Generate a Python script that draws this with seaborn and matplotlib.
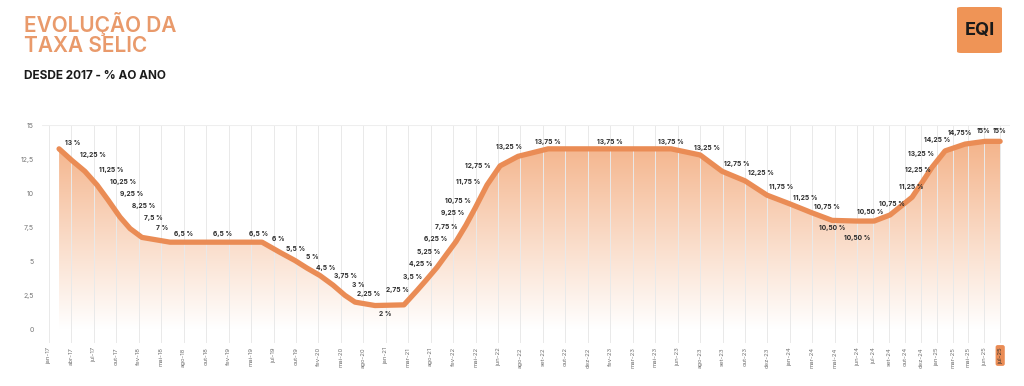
import numpy as np
import pandas as pd
import matplotlib
matplotlib.use('Agg')
import matplotlib.pyplot as plt
import seaborn as sns
from matplotlib.patches import FancyBboxPatch
from matplotlib.colors import LinearSegmentedColormap

# rótulos do eixo x (46 categorias)
month_labels = ['jan-17', 'abr-17', 'jul-17', 'out-17', 'fev-18', 'mai-18', 'ago-18', 'out-18',
                'fev-19', 'mai-19', 'jul-19', 'out-19', 'fev-20', 'mai-20', 'ago-20', 'jan-21',
                'mar-21', 'ago-21', 'fev-22', 'mai-22', 'jun-22', 'ago-22', 'set-22', 'out-22',
                'dez-22', 'fev-23', 'mar-23', 'mai-23', 'jun-23', 'ago-23', 'set-23', 'out-23',
                'dez-23', 'jan-24', 'mar-24', 'mai-24', 'jun-24', 'jul-24', 'set-24', 'out-24',
                'dez-24', 'jan-25', 'mar-25', 'mai-25', 'jun-25', 'jul-25']

# posição de cada ponto no eixo x
point_pos = [0.45, 1.02, 1.60, 2.14, 2.63, 3.16, 3.61, 4.14, 5.39, 7.71,
             9.49, 10.29, 10.96, 11.49, 12.07, 12.65, 13.18, 13.63, 14.52, 15.81,
             16.39, 16.79, 17.28, 17.68, 18.13, 18.57, 18.98, 19.51, 20.09, 20.89,
             22.23, 24.99, 27.71, 29.00, 29.98, 31.00, 31.98, 33.01, 33.99, 34.88,
             35.99, 36.75, 37.46, 38.44, 38.89, 39.33, 39.91, 40.80, 41.69, 42.36]

# valores da curva lidos no eixo y
curve_values = [13.25, 12.4, 11.6, 10.6, 9.5, 8.25, 7.4, 6.75, 6.4, 6.4,
                6.4, 5.65, 5.05, 4.5, 3.95, 3.25, 2.5, 2.0, 1.75, 1.8,
                2.85, 3.6, 4.55, 5.45, 6.45, 7.65, 8.9, 10.6, 12.0, 12.7,
                13.25, 13.25, 13.25, 12.8, 11.6, 10.9, 9.85, 9.2, 8.55, 8.0,
                7.95, 7.95, 8.4, 9.7, 10.8, 11.9, 13.1, 13.6, 13.8, 13.8]

# texto das etiquetas
selic_text = ['13 %', '12,25 %', '11,25 %', '10,25 %', '9,25 %', '8,25 %', '7,5 %', '7 %', '6,5 %', '6,5 %',
              '6,5 %', '6 %', '5,5 %', '5 %', '4,5 %', '3,75 %', '3 %', '2,25 %', '2 %', '2,75 %',
              '3,5 %', '4,25 %', '5,25 %', '6,25 %', '7,75 %', '9,25 %', '10,75 %', '11,75 %', '12,75 %', '13,25 %',
              '13,75 %', '13,75 %', '13,75 %', '13,25 %', '12,75 %', '12,25 %', '11,75 %', '11,25 %', '10,75 %', '10,50 %',
              '10,50 %', '10,50 %', '10,75 %', '11,25 %', '12,25 %', '13,25 %', '14,25 %', '14,75%', '15%', '15%']

# deslocamento das etiquetas (pixels)
label_offsets = [(14, 6), (21, 5), (26, 1), (26, 3), (24, 6), (24, 11), (23, 11), (20, 9), (14, 8), (0, 8),
                 (-3, 8), (-2, 13), (1, 12), (5, 11), (6, 8), (12, 9), (13, 10), (14, 8), (10, -8), (-7, 15),
                 (-4, 14), (-5, 16), (-8, 15), (-10, 16), (-10, 14), (-13, 12), (-17, 7), (-19, 3), (-22, 0), (-9, 9),
                 (0, 7), (0, 7), (0, 7), (7, 7), (15, 7), (16, 8), (14, 8), (15, 6), (15, 6), (0, -8),
                 (0, -17), (-4, 9), (2, 11), (-1, 10), (-4, 12), (-11, 13), (-8, 11), (-5, 11), (-1, 10), (0, 10)]

ORANGE = '#EA8C55'

sns.set_theme(style='white')
plt.rcParams['font.family'] = ['Inter', 'DejaVu Sans']

df = pd.DataFrame({'pos': point_pos, 'selic': curve_values})

# ticks: passo normal até jun-24, depois comprimido
tick_pos = list(range(37)) + [36 + k * 0.707 for k in range(1, 10)]

fig = plt.figure(figsize=(10.24, 3.86), dpi=100)
ax = fig.add_axes([42 / 1024, 1 - 343 / 386, 968 / 1024, 218 / 386])
x0, x1 = -0.31, 42.8
ax.set_xlim(x0, x1)
ax.set_ylim(-1, 15)

# gradiente sob a curva
cmap = LinearSegmentedColormap.from_list('fade', ['#ffffff', '#f3ad80'])
grad = np.linspace(0, 1, 256).reshape(-1, 1)
im = ax.imshow(grad, extent=[x0, x1, 0, 15], origin='lower', aspect='auto', cmap=cmap, zorder=1)
poly = ax.fill_between(df['pos'], df['selic'], 0, color='none', linewidth=0)
im.set_clip_path(poly.get_paths()[0], transform=ax.transData)

# grade vertical
ax.vlines(tick_pos, -1, 15, color='#e9e9e9', linewidth=0.7, zorder=2)
ax.axhline(15, color='#eeeeee', linewidth=0.8, zorder=2)

sns.lineplot(data=df, x='pos', y='selic', color=ORANGE, linewidth=3.8, ax=ax, zorder=3)
ax.lines[-1].set_solid_joinstyle('round')
ax.lines[-1].set_solid_capstyle('round')

for x, y, txt, off in zip(df['pos'], df['selic'], selic_text, label_offsets):
    ax.annotate(txt, (x, y), xytext=off, textcoords='offset pixels', ha='center', va='center',
                fontsize=4.8, fontweight='bold', color='#2b2b2b', zorder=4)

ax.set_yticks([0, 2.5, 5, 7.5, 10, 12.5, 15])
ax.set_yticklabels(['0', '2,5', '5', '7,5', '10', '12,5', '15'], fontsize=5, color='#777777')
ax.set_xticks(tick_pos)
ax.set_xticklabels(month_labels, rotation=90, fontsize=4.3, color='#707070')
ax.tick_params(axis='y', length=0, pad=6)
ax.tick_params(axis='x', length=0, pad=3)
last = ax.get_xticklabels()[-1]
last.set_color('#333333')
last.set_bbox(dict(boxstyle='round,pad=0.35', facecolor=ORANGE, edgecolor='none'))
ax.set_xlabel('')
ax.set_ylabel('')
sns.despine(ax=ax, left=True, bottom=True)

# título
fig.text(24 / 1024, 1 - 12 / 386, 'EVOLUÇÃO DA\nTAXA SELIC', ha='left', va='top', fontsize=15,
         fontweight='semibold', color='#E99A6B', linespacing=1.0)
fig.text(24 / 1024, 1 - 70 / 386, 'DESDE 2017 - % AO ANO', ha='left', va='top', fontsize=8.5,
         fontweight='bold', color='#1a1a1a')

# logo
logo = FancyBboxPatch((957 / 1024, 1 - 53 / 386), 45 / 1024, 46 / 386,
                      boxstyle='round,pad=0,rounding_size=0.004', transform=fig.transFigure,
                      facecolor='#EF9456', edgecolor='none')
fig.patches.append(logo)
fig.text(979.5 / 1024, 1 - 31 / 386, 'EQI', ha='center', va='center', fontsize=13,
         fontweight='bold', color='#1a1a1a')

fig.savefig('out.png', dpi=100)
